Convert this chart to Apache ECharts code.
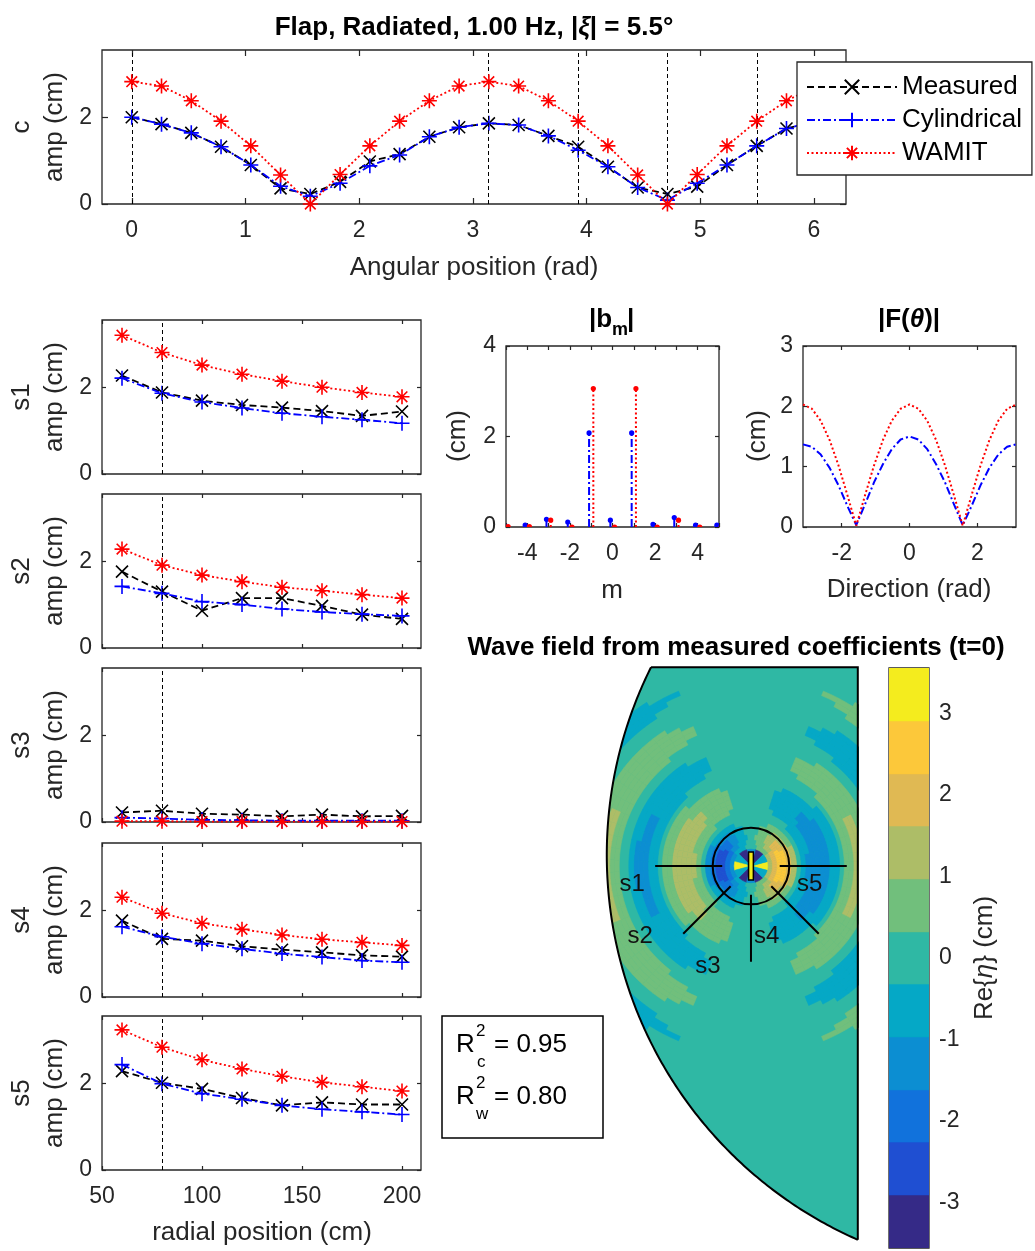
<!DOCTYPE html>
<html>
<head>
<meta charset="utf-8">
<title>Flap, Radiated, 1.00 Hz</title>
<script src="https://cdn.jsdelivr.net/npm/echarts@6/dist/echarts.min.js"></script>
<style>
  html, body { margin: 0; padding: 0; background: #ffffff; }
  #chart { width: 1035px; height: 1251px; }
</style>
</head>
<body>
<div id="chart"></div>
<script>
// ---------------- data ----------------
// Circumferential gauge ring: angular position (rad) and amplitude (cm)
const angularPos = [0.0000, 0.2618, 0.5236, 0.7854, 1.0472, 1.3090, 1.5708, 1.8326, 2.0944, 2.3562, 2.6180, 2.8798,
                    3.1416, 3.4034, 3.6652, 3.9270, 4.1888, 4.4506, 4.7124, 4.9742, 5.2360, 5.4978, 5.7596, 6.0214];
const circMeasured    = [2.00, 1.84, 1.64, 1.32, 0.90, 0.36, 0.23, 0.51, 0.98, 1.15, 1.55, 1.77,
                         1.86, 1.82, 1.57, 1.32, 0.86, 0.38, 0.23, 0.40, 0.90, 1.34, 1.74, 1.92];
const circCylindrical = [2.00, 1.84, 1.64, 1.32, 0.90, 0.41, 0.18, 0.48, 0.88, 1.13, 1.55, 1.77,
                         1.86, 1.82, 1.57, 1.24, 0.86, 0.38, 0.09, 0.48, 0.90, 1.34, 1.74, 1.92];
const circWamit       = [2.82, 2.72, 2.38, 1.91, 1.34, 0.67, 0.00, 0.68, 1.34, 1.91, 2.38, 2.72,
                         2.82, 2.72, 2.38, 1.91, 1.34, 0.67, 0.00, 0.68, 1.34, 1.91, 2.38, 2.72];

// Radial gauge arrays
const arrayNames  = ['s1', 's2', 's3', 's4', 's5'];
const arrayAngles = [3.1416, 3.9270, 4.7124, 5.4978, 0.0000];   // direction of each array (rad)
const radialPos   = [60, 80, 100, 120, 140, 160, 180, 200];      // cm from the flap
const gaugeCircleRadius = 80;                                     // cm

const s1Measured    = [2.27, 1.88, 1.69, 1.59, 1.53, 1.45, 1.34, 1.44];
const s1Cylindrical = [2.21, 1.86, 1.66, 1.52, 1.40, 1.32, 1.25, 1.17];
const s1Wamit       = [3.20, 2.80, 2.51, 2.30, 2.14, 2.00, 1.88, 1.78];
const s2Measured    = [1.76, 1.30, 0.86, 1.15, 1.15, 0.97, 0.77, 0.67];
const s2Cylindrical = [1.42, 1.26, 1.07, 1.00, 0.90, 0.83, 0.78, 0.74];
const s2Wamit       = [2.28, 1.91, 1.68, 1.53, 1.40, 1.32, 1.23, 1.15];
const s3Measured    = [0.22, 0.26, 0.19, 0.17, 0.13, 0.17, 0.13, 0.14];
const s3Cylindrical = [0.10, 0.08, 0.05, 0.04, 0.03, 0.03, 0.03, 0.03];
const s3Wamit       = [0.02, 0.02, 0.01, 0.01, 0.01, 0.01, 0.01, 0.01];
const s4Measured    = [1.76, 1.34, 1.30, 1.17, 1.09, 1.03, 0.96, 0.93];
const s4Cylindrical = [1.62, 1.39, 1.23, 1.11, 1.00, 0.92, 0.84, 0.80];
const s4Wamit       = [2.30, 1.93, 1.70, 1.56, 1.43, 1.33, 1.26, 1.19];
const s5Measured    = [2.28, 2.01, 1.87, 1.66, 1.49, 1.56, 1.51, 1.51];
const s5Cylindrical = [2.43, 1.99, 1.76, 1.63, 1.49, 1.40, 1.34, 1.28];
const s5Wamit       = [3.23, 2.83, 2.54, 2.33, 2.16, 2.02, 1.92, 1.82];

// Cylindrical coefficients |b_m| (cm)
const modeOrders    = [-5, -4, -3, -2, -1, 0, 1, 2, 3, 4, 5];
const bmCylindrical = [0.04, 0.04, 0.17, 0.11, 2.08, 0.15, 2.08, 0.06, 0.21, 0.04, 0.04];
const bmWamit       = [0.01, 0.01, 0.15, 0.00, 3.06, 0.00, 3.06, 0.00, 0.15, 0.00, 0.00];

// Far-field directional amplitude |F(theta)| (cm)
const directions   = [-3.1416, -2.8798, -2.6180, -2.3562, -2.0944, -1.8326, -1.5708, -1.3090, -1.0472, -0.7854, -0.5236, -0.2618, 0.0000,
                      0.2618, 0.5236, 0.7854, 1.0472, 1.3090, 1.5708, 1.8326, 2.0944, 2.3562, 2.6180, 2.8798, 3.1416];
const fCylindrical = [1.37, 1.33, 1.20, 0.98, 0.69, 0.35, 0.03, 0.38, 0.74, 1.04, 1.29, 1.45, 1.50,
                      1.45, 1.29, 1.04, 0.74, 0.38, 0.03, 0.35, 0.69, 0.98, 1.20, 1.33, 1.37];
const fWamit       = [2.03, 1.96, 1.76, 1.44, 1.02, 0.53, 0.02, 0.53, 1.02, 1.44, 1.76, 1.96, 2.03,
                      1.96, 1.76, 1.44, 1.02, 0.53, 0.02, 0.53, 1.02, 1.44, 1.76, 1.96, 2.03];

// Wave field (t = 0), Re{eta} in cm, around the flap (metres)
const fieldRadii = [0.4, 0.5, 0.6, 0.7, 0.8, 0.9, 1.0, 1.1, 1.2, 1.3, 1.4, 1.5, 1.6, 1.7, 1.8, 1.9, 2.0,
                    2.1, 2.2, 2.3, 2.4, 2.5, 2.6, 2.7, 2.8, 2.9, 3.0, 3.1, 3.2, 3.3, 3.4, 3.5, 3.6,
                    3.7, 3.8, 3.9, 4.0, 4.1, 4.2, 4.3, 4.4];
const fieldRadialProfile = [1.3, 2.2, 2.7, 2.6, 2.0, 1.1, 0.2, -0.5, -1.0, -1.35, -1.5, -1.5, -1.3, -0.95, -0.45, 0.05, 0.5,
                            0.85, 1.1, 1.15, 1.0, 0.65, 0.25, -0.2, -0.6, -0.9, -1.05, -1.05, -0.9, -0.65, -0.3, 0.05, 0.4,
                            0.7, 0.9, 0.95, 0.75, 0.4, 0.1, -0.1, -0.2];
const fieldLobe = [1.00, 1.00, 0.98, 0.96, 0.93, 0.89, 0.84, 0.78, 0.72, 0.65, 0.58, 0.50, 0.42, 0.34, 0.26, 0.19, 0.12, 0.06, 0.00]; // 0..90 deg, 5 deg step
const nearFieldRing = [3.3, -0.5, -3.3, -1.0, -3.3, -0.5, 3.0, -0.5, -3.3, -1.0, -3.3, -0.5];  // 30 deg step
const levelEdges  = [-3.56, -2.91, -2.26, -1.62, -0.97, -0.32, 0.32, 0.97, 1.62, 2.26, 2.91, 3.56];
const bandColours = ['#352a87', '#1f4fd2', '#1172dc', '#0c8ed2', '#05a8c6', '#2fb8a4',
                     '#71bf7c', '#adbd67', '#e0b953', '#fcc83a', '#f4ec1e'];
const colorbarTicks = [-3, -2, -1, 0, 1, 2, 3];
const fieldXRange = [-3.02, 2.23];
const fieldYRange = [-7.80, 4.15];
const basinCentre = [5.77, 0.23];
const basinRadius = 8.78;
const flapSize = [0.10, 0.58];

const rSquaredCirc = 0.95;
const rSquaredWave = 0.80;

// ---------------- styling ----------------
const FONT = "'Liberation Sans', Arial, Helvetica, sans-serif";
const INK = '#262626';
const TEAL_BAND = 5;

const STYLE = {
  Measured:    { color: '#000000', dash: [7, 4],       size: 12, symbol: 'path://M0,0L10,10M10,0L0,10' },
  Cylindrical: { color: '#0000ff', dash: [8, 3, 2, 3], size: 15, symbol: 'path://M5,0L5,10M0,5L10,5' },
  WAMIT:       { color: '#ff0000', dash: [2, 2.5],     size: 15, symbol: 'path://M5,0L5,10M0,5L10,5M1.46,1.46L8.54,8.54M8.54,1.46L1.46,8.54' }
};

const panels = [
  { left: 102, top: 50,   width: 744, height: 154 },  // circumferential
  { left: 102, top: 320,  width: 319, height: 154 },  // s1
  { left: 102, top: 494,  width: 319, height: 154 },  // s2
  { left: 102, top: 668,  width: 319, height: 154 },  // s3
  { left: 102, top: 843,  width: 319, height: 154 },  // s4
  { left: 102, top: 1016, width: 319, height: 154 },  // s5
  { left: 506, top: 346,  width: 213, height: 181 },  // |b_m|
  { left: 803, top: 346,  width: 213, height: 181 }   // |F(theta)|
];

const grids = panels.map(p => Object.assign({ show: true, borderColor: INK, borderWidth: 1.3, backgroundColor: 'transparent' }, p));
grids.push({ show: false, left: 606.3, top: 667.2, width: 251.5, height: 572.4 });                 // wave field
grids.push({ show: true, borderColor: INK, borderWidth: 1.3, left: 889, top: 668, width: 40, height: 580 }); // colour bar

const xAxes = [], yAxes = [];
function addAxes(g, xr, yr, xTicks, xLabels, yTicks, yLabels, tickLen) {
  const tick = vals => ({ show: true, inside: true, length: tickLen, lineStyle: { color: INK, width: 1.2 }, customValues: vals });
  const lab = (vals, margin) => vals.length
    ? { show: true, customValues: vals, fontSize: 23, color: INK, fontFamily: FONT, margin }
    : { show: false };
  const common = { type: 'value', gridIndex: g, axisLine: { show: false, onZero: false }, splitLine: { show: false } };
  xAxes.push(Object.assign({}, common, { min: xr[0], max: xr[1], position: 'bottom', axisTick: tick(xTicks), axisLabel: lab(xLabels, 15) }));
  xAxes.push(Object.assign({}, common, { min: xr[0], max: xr[1], position: 'top', axisTick: tick(xTicks), axisLabel: { show: false } }));
  yAxes.push(Object.assign({}, common, { min: yr[0], max: yr[1], position: 'left', axisTick: tick(yTicks), axisLabel: lab(yLabels, 10) }));
  yAxes.push(Object.assign({}, common, { min: yr[0], max: yr[1], position: 'right', axisTick: tick(yTicks), axisLabel: { show: false } }));
}

const AMP_MAX = 3.55;
addAxes(0, [-0.2618, 6.2832], [0, AMP_MAX], [0, 1, 2, 3, 4, 5, 6], [0, 1, 2, 3, 4, 5, 6], [0, 2], [0, 2], 6);
for (let g = 1; g <= 5; g++) {
  addAxes(g, [50, 209.5], [0, AMP_MAX], [50, 100, 150, 200], g === 5 ? [50, 100, 150, 200] : [], [0, 2], [0, 2], 4);
}
addAxes(6, [-5, 5], [0, 4], modeOrders, [-4, -2, 0, 2, 4], [0, 2, 4], [0, 2, 4], 4);
addAxes(7, [-3.1416, 3.1416], [0, 3], [-2, 0, 2], [-2, 0, 2], [0, 1, 2, 3], [0, 1, 2, 3], 4);
// wave field (equal scaling, hidden axes)
xAxes.push({ type: 'value', gridIndex: 8, min: fieldXRange[0], max: fieldXRange[1], show: false, axisLine: { onZero: false } });
yAxes.push({ type: 'value', gridIndex: 8, min: fieldYRange[0], max: fieldYRange[1], show: false, axisLine: { onZero: false } });
// colour bar
xAxes.push({ type: 'value', gridIndex: 9, min: 0, max: 1, show: false, axisLine: { onZero: false } });
yAxes.push({
  type: 'value', gridIndex: 9, position: 'right', min: levelEdges[0], max: levelEdges[levelEdges.length - 1],
  axisLine: { show: false, onZero: false }, splitLine: { show: false },
  axisTick: { show: true, inside: true, length: 5, lineStyle: { color: INK, width: 1.2 }, customValues: colorbarTicks },
  axisLabel: { show: true, customValues: colorbarTicks, fontSize: 23, color: INK, fontFamily: FONT, margin: 10 }
});

// ---------------- series ----------------
const series = [];

function addTriple(g, xs, meas, cyl, wam, guideValues) {
  [['Measured', meas], ['Cylindrical', cyl], ['WAMIT', wam]].forEach(([name, ys], k) => {
    const st = STYLE[name];
    const s = {
      type: 'line', name, xAxisIndex: 2 * g, yAxisIndex: 2 * g,
      data: xs.map((x, i) => [x, ys[i]]),
      symbol: st.symbol, symbolSize: st.size, showAllSymbol: true,
      clip: false, silent: true, z: 3 + k,
      lineStyle: { color: st.color, width: 1.8, type: st.dash },
      itemStyle: { color: 'transparent', borderColor: st.color, borderWidth: 1.6 },
      emphasis: { disabled: true }
    };
    if (k === 0) {
      s.markLine = {
        silent: true, symbol: ['none', 'none'], label: { show: false }, animation: false,
        lineStyle: { color: '#000000', width: 1, type: [4, 3] },
        emphasis: { disabled: true },
        data: guideValues.map(v => ({ xAxis: v }))
      };
    }
    series.push(s);
  });
}

addTriple(0, angularPos, circMeasured, circCylindrical, circWamit, arrayAngles);
addTriple(1, radialPos, s1Measured, s1Cylindrical, s1Wamit, [gaugeCircleRadius]);
addTriple(2, radialPos, s2Measured, s2Cylindrical, s2Wamit, [gaugeCircleRadius]);
addTriple(3, radialPos, s3Measured, s3Cylindrical, s3Wamit, [gaugeCircleRadius]);
addTriple(4, radialPos, s4Measured, s4Cylindrical, s4Wamit, [gaugeCircleRadius]);
addTriple(5, radialPos, s5Measured, s5Cylindrical, s5Wamit, [gaugeCircleRadius]);

// stem plot of |b_m|, the two models side by side around each order
function stemSeries(values, offset, color, dash) {
  return {
    type: 'custom', xAxisIndex: 12, yAxisIndex: 12, clip: true, silent: true, z: 4,
    data: modeOrders.map((m, i) => [m, values[i]]),
    renderItem(params, api) {
      const x = api.value(0) + offset, v = api.value(1);
      const p0 = api.coord([x, 0]), p1 = api.coord([x, v]);
      return {
        type: 'group', children: [
          { type: 'line', shape: { x1: p0[0], y1: p0[1], x2: p1[0], y2: p1[1] }, style: { stroke: color, lineWidth: 2, lineDash: dash } },
          { type: 'circle', shape: { cx: p1[0], cy: p1[1], r: 2.6 }, style: { fill: color } }
        ]
      };
    }
  };
}
series.push(stemSeries(bmCylindrical, -0.1, '#0000ff', [8, 3, 2, 3]));
series.push(stemSeries(bmWamit, 0.1, '#ff0000', [2, 2.5]));

// directional amplitude curves
series.push({
  type: 'line', xAxisIndex: 14, yAxisIndex: 14, silent: true, symbol: 'none', z: 3,
  data: directions.map((d, i) => [d, fCylindrical[i]]),
  lineStyle: { color: '#0000ff', width: 2, type: [8, 3, 2, 3] }
});
series.push({
  type: 'line', xAxisIndex: 14, yAxisIndex: 14, silent: true, symbol: 'none', z: 4,
  data: directions.map((d, i) => [d, fWamit[i]]),
  lineStyle: { color: '#ff0000', width: 2, type: [2, 2.5] }
});

// ---- wave field ----
function bandOf(v) {
  for (let b = 0; b < bandColours.length; b++) { if (v < levelEdges[b + 1]) return b; }
  return bandColours.length - 1;
}
function lobeAt(deg) {
  const a = ((deg % 360) + 360) % 360;
  const step = 5;
  if (a <= 90) return fieldLobe[Math.round(a / step)];
  if (a <= 180) return -fieldLobe[Math.round((180 - a) / step)];
  if (a <= 270) return -fieldLobe[Math.round((a - 180) / step)];
  return fieldLobe[Math.round((360 - a) / step)];
}
const fieldCells = [];
fieldRadii.forEach((r, i) => {
  for (let j = 0; j < 72; j++) {
    const th = j * 5;
    const v = fieldRadialProfile[i] * lobeAt(th);
    if (bandOf(v) !== TEAL_BAND) fieldCells.push([r, th, v, 0.1, 5]);
  }
});
nearFieldRing.forEach((v, j) => { if (bandOf(v) !== TEAL_BAND) fieldCells.push([0.215, j * 30, v, 0.27, 30]); });

// teal background of the basin
series.push({
  type: 'custom', xAxisIndex: 16, yAxisIndex: 16, silent: true, clip: true, z: 2,
  data: [[0, 0]],
  renderItem(params) {
    const cs = params.coordSys;
    return { type: 'rect', shape: { x: cs.x, y: cs.y, width: cs.width, height: cs.height }, style: { fill: bandColours[TEAL_BAND] } };
  }
});
// contour bands as polar cells
series.push({
  type: 'custom', xAxisIndex: 16, yAxisIndex: 16, silent: true, clip: true, z: 3,
  progressive: 0, progressiveThreshold: 1e6,
  encode: { x: -1, y: -1 },
  data: fieldCells,
  renderItem(params, api) {
    const o = api.coord([0, 0]);
    const k = api.size([1, 0])[0];
    const r = api.value(0), th = api.value(1), v = api.value(2), dr = api.value(3), dth = api.value(4);
    const col = bandColours[bandOf(v)];
    const d2r = Math.PI / 180;
    return {
      type: 'sector',
      shape: { cx: o[0], cy: o[1], r0: (r - dr / 2) * k, r: (r + dr / 2) * k,
               startAngle: -(th + dth / 2) * d2r, endAngle: -(th - dth / 2) * d2r, clockwise: true },
      style: { fill: col, stroke: col, lineWidth: 0.6 }
    };
  }
});
// basin wall: white outside the circular boundary plus the outline
series.push({
  type: 'custom', xAxisIndex: 16, yAxisIndex: 16, silent: true, clip: false, z: 4,
  data: [[0, 0]],
  renderItem(params, api) {
    const cs = params.coordSys;
    const bx = basinCentre[0], by = basinCentre[1], R = basinRadius;
    const tTop = Math.PI - Math.asin((fieldYRange[1] - by) / R);
    const tBot = 2 * Math.PI - Math.acos((fieldXRange[1] - bx) / R);
    const arc = [];
    for (let i = 0; i <= 200; i++) {
      const t = tTop + (tBot - tTop) * i / 200;
      arc.push(api.coord([bx + R * Math.cos(t), by + R * Math.sin(t)]));
    }
    const L = cs.x - 3, T = cs.y - 1, B = cs.y + cs.height, Rr = cs.x + cs.width;
    const mask = [[L, T], [arc[0][0], T]].concat(arc, [[Rr, B + 2], [L, B + 2]]);
    const end = arc[arc.length - 1];
    return {
      type: 'group', children: [
        { type: 'polygon', shape: { points: mask }, style: { fill: '#ffffff' } },
        { type: 'polyline', shape: { points: arc }, style: { stroke: '#000000', lineWidth: 2, fill: 'none' } },
        { type: 'polyline', shape: { points: [arc[0], [Rr, cs.y], [Rr, end[1]]] }, style: { stroke: '#000000', lineWidth: 2, fill: 'none' } }
      ]
    };
  }
});
// gauge arrays and their labels
const S_LABEL_OFFSET = [[-23, 18], [-43, 3], [-43, 5], [-52, 3], [-37, 18]];
series.push({
  type: 'custom', xAxisIndex: 16, yAxisIndex: 16, silent: true, clip: false, z: 5,
  encode: { x: -1, y: -1 },
  data: arrayAngles.map((a, i) => [a, i]),
  renderItem(params, api) {
    const a = api.value(0), i = api.value(1);
    const r0 = radialPos[0] / 100, r1 = radialPos[radialPos.length - 1] / 100;
    const p0 = api.coord([r0 * Math.cos(a), r0 * Math.sin(a)]);
    const p1 = api.coord([r1 * Math.cos(a), r1 * Math.sin(a)]);
    const off = S_LABEL_OFFSET[i];
    return {
      type: 'group', children: [
        { type: 'line', shape: { x1: p0[0], y1: p0[1], x2: p1[0], y2: p1[1] }, style: { stroke: '#000000', lineWidth: 2 } },
        { type: 'text', x: p1[0] + off[0], y: p1[1] + off[1],
          style: { text: arrayNames[i], fontSize: 24, fontFamily: FONT, fill: '#111111', align: 'center', verticalAlign: 'middle' } }
      ]
    };
  }
});
// gauge circle and the flap itself
series.push({
  type: 'custom', xAxisIndex: 16, yAxisIndex: 16, silent: true, clip: false, z: 6,
  data: [[0, 0]],
  renderItem(params, api) {
    const c = api.coord([0, 0]);
    const k = api.size([1, 0])[0];
    const tl = api.coord([-flapSize[0] / 2, flapSize[1] / 2]);
    return {
      type: 'group', children: [
        { type: 'circle', shape: { cx: c[0], cy: c[1], r: gaugeCircleRadius / 100 * k }, style: { fill: 'none', stroke: '#000000', lineWidth: 2 } },
        { type: 'rect', shape: { x: tl[0], y: tl[1], width: flapSize[0] * k, height: flapSize[1] * k }, style: { fill: bandColours[10], stroke: '#000000', lineWidth: 1.5 } }
      ]
    };
  }
});
// colour bar bands
series.push({
  type: 'custom', xAxisIndex: 17, yAxisIndex: 17, silent: true, clip: true, z: 2,
  encode: { x: -1, y: -1 },
  data: bandColours.map((c, i) => [levelEdges[i], levelEdges[i + 1], i]),
  renderItem(params, api) {
    const p0 = api.coord([0, api.value(0)]), p1 = api.coord([1, api.value(1)]);
    return { type: 'rect', shape: { x: p0[0], y: p1[1], width: p1[0] - p0[0], height: p0[1] - p1[1] },
             style: { fill: bandColours[api.value(2)], stroke: bandColours[api.value(2)], lineWidth: 0.5 } };
  }
});

// ---------------- text ----------------
const T = (x, y, text, o = {}) => ({
  type: 'text', x, y, rotation: o.rot || 0, silent: true, z: 50,
  style: {
    text, fontSize: o.size || 26, fontFamily: FONT,
    fontWeight: o.bold ? 'bold' : 'normal', fontStyle: o.italic ? 'italic' : 'normal',
    fill: o.fill || INK, align: o.align || 'center', verticalAlign: 'middle', rich: o.rich
  }
});
const boldRich = {
  b:  { fontSize: 26, fontFamily: FONT, fontWeight: 'bold', fill: '#000000' },
  bi: { fontSize: 26, fontFamily: FONT, fontWeight: 'bold', fontStyle: 'italic', fill: '#000000' }
};
const R90 = Math.PI / 2;
const ampLabelY = panels.map(p => p.top + p.height / 2);

const graphics = [
  T(474, 28, '{b|Flap, Radiated, 1.00 Hz, |}{bi|ξ}{b|| = 5.5°}', { rich: boldRich }),
  T(22, ampLabelY[0], 'c', { rot: R90 }),
  T(55, ampLabelY[0], 'amp (cm)', { rot: R90 }),
  T(474, 268, 'Angular position (rad)'),
  T(262, 1233, 'radial position (cm)'),
  // |b_m| panel
  T(589, 320, '|b', { bold: true, fill: '#000000', align: 'left' }),
  T(612, 330, 'm', { bold: true, fill: '#000000', align: 'left', size: 18 }),
  T(627, 320, '|', { bold: true, fill: '#000000', align: 'left' }),
  T(458, 436, '(cm)', { rot: R90 }),
  T(612, 591, 'm'),
  // |F(theta)| panel
  T(909, 320, '{b||F(}{bi|θ}{b|)|}', { rich: boldRich }),
  T(758, 436, '(cm)', { rot: R90 }),
  T(909, 590, 'Direction (rad)'),
  // wave field
  T(736, 648, 'Wave field from measured coefficients (t=0)', { bold: true, fill: '#000000' }),
  T(985, 958, 'Re{{i|η}} (cm)', { rot: R90, rich: { i: { fontSize: 26, fontFamily: FONT, fontStyle: 'italic', fill: INK } } }),
  // goodness of fit box
  { type: 'rect', shape: { x: 442, y: 1016, width: 161, height: 122 }, style: { fill: '#ffffff', stroke: '#000000', lineWidth: 1.5 }, silent: true, z: 40 },
  T(456, 1045, 'R', { align: 'left', fill: '#000000' }),
  T(476, 1031, '2', { align: 'left', fill: '#000000', size: 17 }),
  T(477, 1062, 'c', { align: 'left', fill: '#000000', size: 17 }),
  T(494, 1045, '= ' + rSquaredCirc.toFixed(2), { align: 'left', fill: '#000000' }),
  T(456, 1097, 'R', { align: 'left', fill: '#000000' }),
  T(476, 1083, '2', { align: 'left', fill: '#000000', size: 17 }),
  T(476, 1114, 'w', { align: 'left', fill: '#000000', size: 17 }),
  T(494, 1097, '= ' + rSquaredWave.toFixed(2), { align: 'left', fill: '#000000' })
];
arrayNames.forEach((n, i) => {
  graphics.push(T(22, ampLabelY[i + 1], n, { rot: R90 }));
  graphics.push(T(55, ampLabelY[i + 1], 'amp (cm)', { rot: R90 }));
});

// ---------------- chart ----------------
const chart = echarts.init(document.getElementById('chart'), null, { renderer: 'canvas', width: 1035, height: 1251 });
chart.setOption({
  animation: false,
  backgroundColor: '#ffffff',
  textStyle: { fontFamily: FONT },
  grid: grids,
  xAxis: xAxes,
  yAxis: yAxes,
  legend: {
    data: ['Measured', 'Cylindrical', 'WAMIT'],
    left: 797, top: 62, orient: 'vertical',
    itemWidth: 90, itemHeight: 18, itemGap: 7,
    padding: [12, 10, 9, 9],
    selectedMode: false,
    backgroundColor: '#ffffff', borderColor: INK, borderWidth: 1.3, borderRadius: 0,
    textStyle: { fontSize: 26, color: '#000000', fontFamily: FONT },
    z: 20
  },
  graphic: graphics,
  series
});
</script>
</body>
</html>
